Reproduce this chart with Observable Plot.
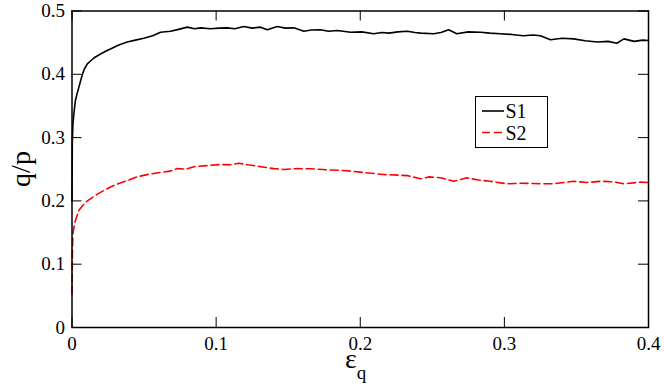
<!DOCTYPE html>
<html>
<head>
<meta charset="utf-8">
<script src="https://cdn.jsdelivr.net/npm/d3@7"></script>
<script src="https://cdn.jsdelivr.net/npm/@observablehq/plot@0.6"></script>
<style>
  body { margin: 0; background: #fff; }
  #chart { position: relative; width: 664px; height: 391px; }
  .ttl { position: absolute; font-family: 'Liberation Serif', serif; color: #000; white-space: nowrap; line-height: 28px; font-size: 28px; }
</style>
</head>
<body>
<div id="chart"></div>
<script>
const xTicks = [0, 0.1, 0.2, 0.3, 0.4];
const yTicks = [0, 0.1, 0.2, 0.3, 0.4, 0.5];

const s1X = [0, 0.0002, 0.0006, 0.0013, 0.0024, 0.0035, 0.0047, 0.0060, 0.0071, 0.0085, 0.0105, 0.0128, 0.0160, 0.0198, 0.0230, 0.0267, 0.0320, 0.0383, 0.0440, 0.0498, 0.0560, 0.0614, 0.0684, 0.0740, 0.0800, 0.0850, 0.0892, 0.0961, 0.1020, 0.1077, 0.1130, 0.1192, 0.1250, 0.1308, 0.1355, 0.1424, 0.1480, 0.1539, 0.1609, 0.1660, 0.1724, 0.1780, 0.1840, 0.1933, 0.2010, 0.2094, 0.2150, 0.2200, 0.2260, 0.2326, 0.2380, 0.2420, 0.2510, 0.2560, 0.2613, 0.2670, 0.2750, 0.2835, 0.2900, 0.2970, 0.3050, 0.3130, 0.3200, 0.3250, 0.3320, 0.3400, 0.3480, 0.3560, 0.3645, 0.3720, 0.3780, 0.3830, 0.3900, 0.3960, 0.4000];
const s1Y = [0.200, 0.290, 0.320, 0.338, 0.359, 0.369, 0.379, 0.390, 0.399, 0.408, 0.416, 0.421, 0.427, 0.432, 0.436, 0.440, 0.446, 0.451, 0.454, 0.457, 0.461, 0.4665, 0.468, 0.471, 0.4745, 0.472, 0.4734, 0.4719, 0.473, 0.4734, 0.472, 0.4755, 0.473, 0.4745, 0.4703, 0.4755, 0.473, 0.4734, 0.468, 0.470, 0.4703, 0.468, 0.4692, 0.4665, 0.467, 0.464, 0.466, 0.465, 0.467, 0.468, 0.466, 0.465, 0.464, 0.466, 0.4703, 0.464, 0.467, 0.4665, 0.465, 0.464, 0.463, 0.461, 0.462, 0.461, 0.4545, 0.457, 0.456, 0.453, 0.451, 0.452, 0.449, 0.456, 0.452, 0.454, 0.4535];

const s2X = [0, 0.0003, 0.0006, 0.0015, 0.0024, 0.0047, 0.0094, 0.0151, 0.0210, 0.0267, 0.0320, 0.0383, 0.0452, 0.0530, 0.0614, 0.0680, 0.0730, 0.0790, 0.0845, 0.0950, 0.1030, 0.1100, 0.1157, 0.1220, 0.1310, 0.1400, 0.1470, 0.1560, 0.1655, 0.1780, 0.1886, 0.2000, 0.2160, 0.2326, 0.2418, 0.2480, 0.2557, 0.2648, 0.2740, 0.2820, 0.2900, 0.3020, 0.3120, 0.3250, 0.3340, 0.3480, 0.3570, 0.3670, 0.3760, 0.3830, 0.3945, 0.4000];
const s2Y = [0.053, 0.120, 0.148, 0.160, 0.169, 0.185, 0.198, 0.207, 0.215, 0.222, 0.227, 0.232, 0.238, 0.242, 0.245, 0.247, 0.251, 0.250, 0.254, 0.256, 0.2575, 0.257, 0.2596, 0.257, 0.254, 0.251, 0.2496, 0.251, 0.2507, 0.249, 0.248, 0.2454, 0.2417, 0.240, 0.235, 0.238, 0.2365, 0.231, 0.2365, 0.233, 0.231, 0.227, 0.228, 0.227, 0.227, 0.231, 0.229, 0.231, 0.230, 0.227, 0.2296, 0.229];

const seriesNames = ["S1", "S2"];
const seriesColors = ["#000000", "#ff0000"];

const s1 = s1X.map((x, i) => ({x, y: s1Y[i]}));
const s2 = s2X.map((x, i) => ({x, y: s2Y[i]}));

const W = 664, H = 391;
const mL = 71.5, mR = 16, mT = 10.5, mB = 64;
const innerH = H - mT - mB;
const innerW = W - mL - mR;
const tickLen = 10;
const FONT = "Liberation Serif";

const plot = Plot.plot({
  width: W,
  height: H,
  marginLeft: mL,
  marginRight: mR,
  marginTop: mT,
  marginBottom: mB,
  x: {domain: [0, 0.4]},
  y: {domain: [0, 0.5]},
  marks: [
    Plot.tickX(xTicks, {x: d => d, insetTop: innerH - tickLen, stroke: "#000", strokeWidth: 1}),
    Plot.tickX(xTicks, {x: d => d, insetBottom: innerH - tickLen, stroke: "#000", strokeWidth: 1}),
    Plot.tickY(yTicks, {y: d => d, insetRight: innerW - tickLen, stroke: "#000", strokeWidth: 1}),
    Plot.tickY(yTicks, {y: d => d, insetLeft: innerW - tickLen, stroke: "#000", strokeWidth: 1}),
    Plot.axisX(xTicks, {tickSize: 0, tickPadding: 9, label: null, fontSize: 19, fontFamily: FONT, tickFormat: d3.format("")}),
    Plot.axisY(yTicks, {tickSize: 0, tickPadding: 7, label: null, fontSize: 19, fontFamily: FONT, tickFormat: d3.format("")}),
    Plot.line(s2, {x: "x", y: "y", stroke: seriesColors[1], strokeWidth: 1.6, strokeDasharray: "8,4"}),
    Plot.line(s1, {x: "x", y: "y", stroke: seriesColors[0], strokeWidth: 1.6}),
    Plot.frame({stroke: "#000", strokeWidth: 1.5})
  ]
});

const container = document.getElementById("chart");
container.appendChild(plot);

// legend (inside the SVG)
const svg = d3.select(plot);
const lg = svg.append("g");
lg.append("rect")
  .attr("x", 475.5).attr("y", 96.5).attr("width", 72).attr("height", 51)
  .attr("fill", "#fff").attr("stroke", "#000").attr("stroke-width", 1);
seriesNames.forEach((name, i) => {
  const cy = 111 + i * 21.5;
  lg.append("line")
    .attr("x1", 482).attr("x2", 504).attr("y1", cy).attr("y2", cy)
    .attr("stroke", seriesColors[i]).attr("stroke-width", 1.6)
    .attr("stroke-dasharray", i === 1 ? "8,4" : null);
  lg.append("text")
    .attr("x", 516).attr("y", cy + 7)
    .attr("font-family", FONT).attr("font-size", 20)
    .attr("fill", "#000")
    .text(name);
});

// axis titles as HTML overlays
const yTitle = document.createElement("div");
yTitle.className = "ttl";
yTitle.textContent = "q/p";
yTitle.style.left = "21px";
yTitle.style.top = (mT + innerH / 2) + "px";
yTitle.style.transform = "translate(-50%, -50%) rotate(-90deg)";
container.appendChild(yTitle);

const xTitle = document.createElement("div");
xTitle.className = "ttl";
xTitle.style.left = "345px";
xTitle.style.top = "345px";
xTitle.innerHTML = 'ε<span style="font-size:19px; vertical-align:-11px; line-height:0">q</span>';
container.appendChild(xTitle);
</script>
</body>
</html>
